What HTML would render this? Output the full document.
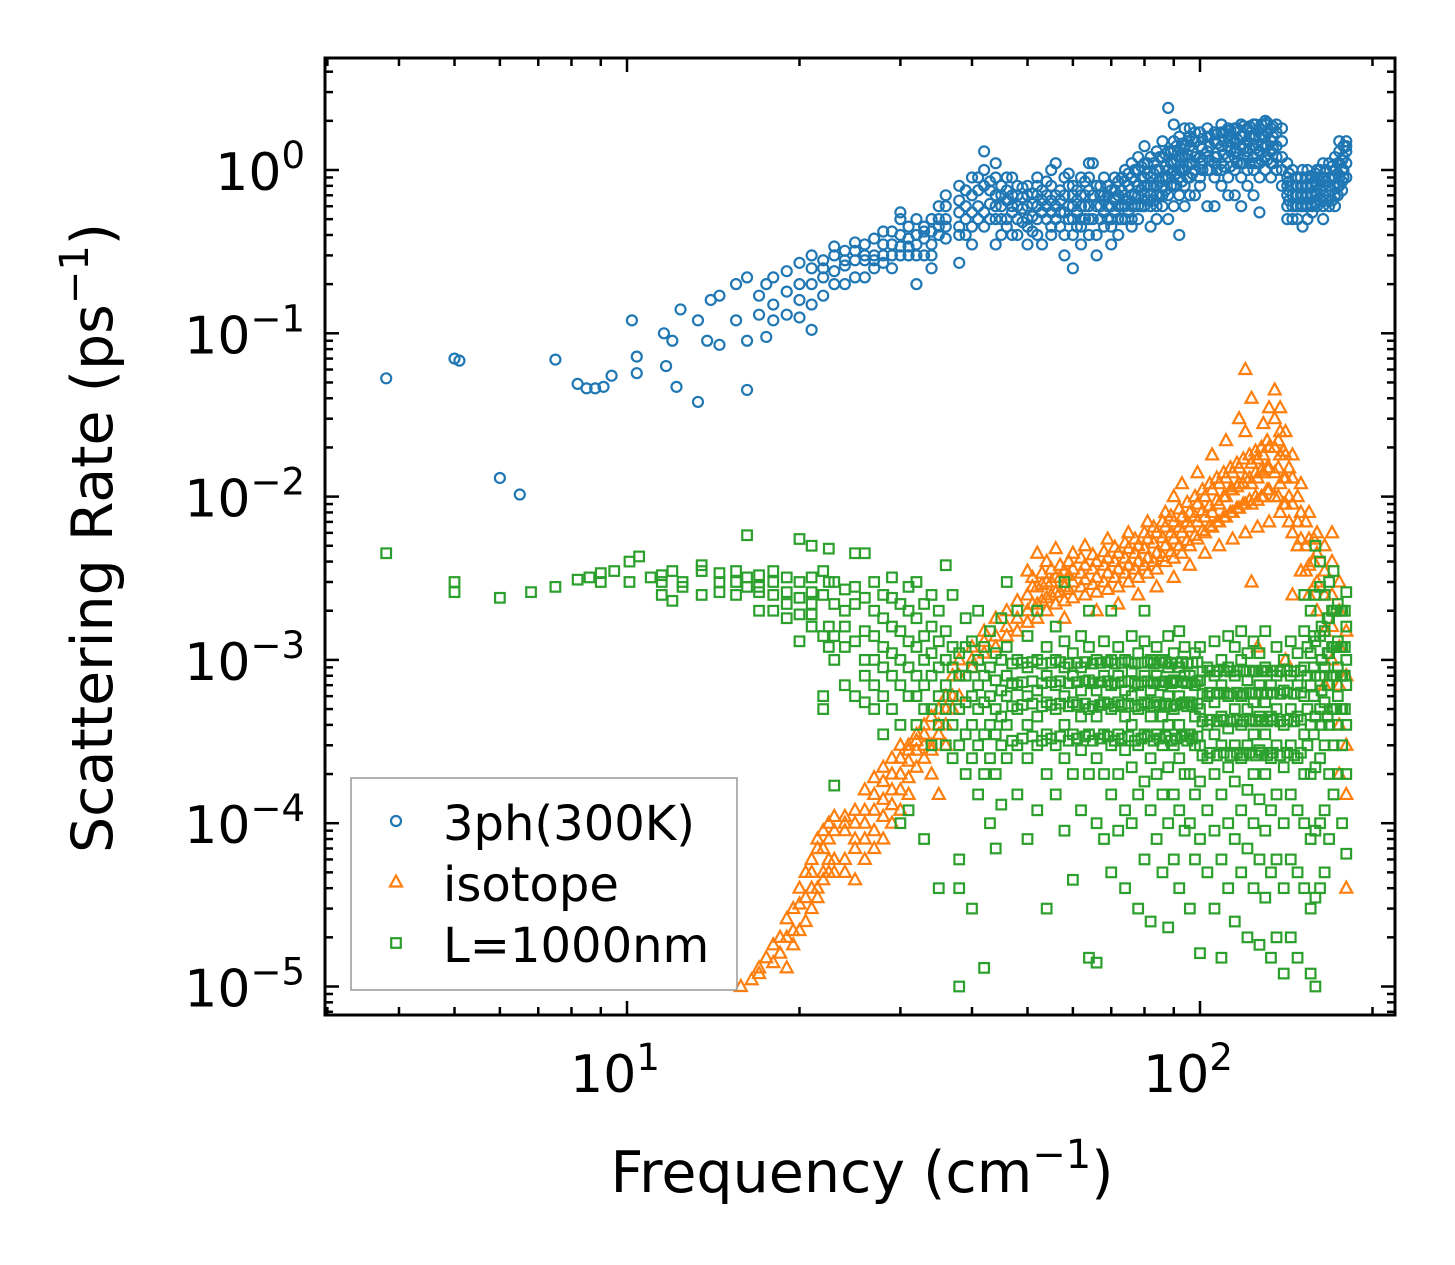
<!DOCTYPE html>
<html><head><meta charset="utf-8"><style>
html,body{margin:0;padding:0;background:#fff;}
svg{display:block;font-family:"DejaVu Sans","Liberation Sans",sans-serif;}
</style></head><body>
<svg id="chart" width="1455" height="1265" viewBox="0 0 1455 1265" xmlns="http://www.w3.org/2000/svg">
<rect width="1455" height="1265" fill="#fff"/>
<g id="marks"></g>
<g id="axes"></g>
<g id="legend"></g>
<text x="862" y="1192" font-size="57" text-anchor="middle">Frequency (cm<tspan font-size="40" dy="-24">−1</tspan><tspan dy="24">)</tspan></text>
<text transform="translate(112,538) rotate(-90)" font-size="57" text-anchor="middle">Scattering Rate (ps<tspan font-size="40" dy="-24">−1</tspan><tspan dy="24">)</tspan></text>
</svg>
<script>
// ---- data: rows are [frequency, rate values...]
const seriesNames = ["3ph(300K)", "isotope", "L=1000nm"];
const xTickLabels = ["1", "2"];
const yTickLabels = ["0", "−1", "−2", "−3", "−4", "−5"];
const blueRows = [
[3.8,.053],[5,.07],[5.1,.068],[6,.013],[6.5,.0103],[7.5,.069],[8.2,.049],[8.5,.046],[8.8,.046],[9.1,.047],[9.4,.055],[10.2,.12],[10.4,.072,.057],[11.6,.1],[11.7,.063],[12,.09],[12.2,.047],[12.4,.14],[13.3,.038,.12],[13.8,.09],[14,.16],[14.5,.085,.17],[15.5,.2,.12],[16.2,.22,.045,.09],[17,.13,.17],[17.5,.2,.095],[18,.15,.22,.12],[19,.24,.18,.13],[20,.125,.27,.2,.16],[21,.2,.3,.15,.25,.105],[22,.25,.17,.28,.22],[23,.3,.2,.24,.34],[24,.2,.26,.32,.28],[25,.32,.22,.28,.36],[26,.22,.28,.3,.35],[27,.28,.3,.38,.25],[28,.35,.27,.3,.42],[29,.42,.3,.35,.25],[30,.5,.55,.34,.3,.4],[31,.34,.3,.45,.38],[32,.2,.4,.35,.3,.5],[33,.3,.42,.38,.45],[34,.42,.35,.5,.3,.25],[35,.5,.4,.45,.6],[36,.6,.38,.5,.45,.7],[38,.27,.55,.45,.65,.4,.8],[39,.75,.5,.6,.4],[40,.45,.55,.7,.9,.35],[41,.9,.6,.5,.75],[42,1.3,.55,.8,1.0,.45],[44,.35,.6,.7,.9,.5,1.1],[45,.7,.5,.6,.8,.4],[46,.5,.65,.9,.45,.75],[47,.9,.55,.7,.4,.6],[48,.4,.6,.8,.5,.7],[50,.6,.45,.7,.5,.8,.35],[52,.8,.5,.6,.7,.4,.9],[53,.35,.55,.65,.75],[55,.55,.45,.65,.8,.4,1.0],[56,1.1,.6,.7,.5],[58,.4,.55,.7,.3,.9],[60,.7,.25,.5,.6,.4,.8],[62,.9,.5,.6,.7,.45,.35],[64,.5,.6,.75,.4,.9,1.1],[65,1.1,.5,.7],[66,.4,.6,.8,.3],[68,.7,.55,.45,.9,.65],[70,.35,.6,.5,.75,.45],[72,.6,.5,.7,.85,.4],[74,.85,.6,.7,.5,1.0],[76,.5,.7,.9,.6,.45,1.1],[78,1.0,.7,.8,.5,.6,1.2],[80,1.4,.6,.9,.7,.8,1.1],[82,.45,.7,.9,1.2,.6,.8],[84,.8,1.0,.6,.7,1.3,.5],[86,1.2,.8,.9,.6,1.5,.7],[88,2.4,.7,1.0,1.3,.9,.5],[90,1.5,.8,1.1,1.9,.6,1.0,1.3],[92,.4,.9,1.2,.7,1.0,1.6],[94,1.0,1.4,.8,.6,1.2,1.8],[96,1.8,.7,1.1,1.4,.9,1.6],[98,.7,1.2,1.0,1.5,1.7],[100,1.2,.9,1.4,1.7,1.1,.8],[103,.6,1.0,1.3,1.6,1.8,1.2],[106,.6,.9,1.2,1.5,1.7,1.1],[109,.8,1.1,1.4,1.7,1.0,1.9],[112,1.4,.9,1.2,1.6,1.8,.7],[115,.7,1.0,1.3,1.5,1.8,1.2],[118,1.9,1.1,1.4,.9,1.6,.6],[121,1.2,1.0,1.5,1.8,1.3,.8],[124,1.6,1.2,1.4,1.9,1.0,.7],[127,.55,1.3,1.6,1.1,1.8,.9],[130,1.9,1.4,1.2,1.6,2.0,1.0],[133,1.3,.9,1.5,1.8,1.1],[136,1.4,1.0,1.7,1.9,1.2],[139,1.0,1.5,1.2,1.8,.8],[142,.6,.7,.9,1.1,.5,.8],[145,.8,.6,.7,1.0,.5],[148,.5,.7,.9,.6,.8],[151,.45,.6,.8,1.0,.7],[154,1.0,.6,.8,.7,.5],[157,.6,.8,.7,.9,.55],[160,.8,.6,.9,.7,1.0],[164,.5,.7,.9,.6,.8,1.1],[168,1.1,.7,.9,.6,.8],[172,.7,.9,1.0,.6,.8,1.2],[175,1.5,.9,1.1,.8,1.3],[178,.9,1.2,1.0,1.4],[180,1.4,1.1,1.3,.9,1.5],
[43,.5,.62,.75,.85],[49,.48,.58,.68,.78],[51,.52,.62,.72,.42],[54,.5,.6,.7,.85],[57,.45,.55,.65,.75],[59,.5,.6,.8,.95],[61,.45,.55,.65,.75],[63,.5,.6,.7,.85],[67,.5,.6,.7,.8],[69,.5,.6,.7,.8],[71,.55,.65,.75,.9],[73,.5,.6,.75,.9],[75,.55,.65,.8,.95],[77,.6,.7,.85,1.0],[79,.6,.75,.9,1.05],[81,.65,.8,.95,1.1],[83,.65,.8,.95,1.1],[85,.7,.85,1.0,1.2],[87,.75,.9,1.05,1.25],[89,.8,.95,1.1,1.3],[91,.8,.95,1.15,1.4],[93,.85,1.0,1.2,1.45],[95,.9,1.05,1.25,1.5],[97,.95,1.1,1.3,1.55],[101,1.0,1.15,1.35,1.55],[104,1.0,1.15,1.4,1.6],[107,1.0,1.2,1.45,1.65],[110,1.05,1.25,1.5,1.7],[113,1.05,1.3,1.5,1.75],[116,1.1,1.3,1.55,1.8],[119,1.1,1.35,1.6,1.85],[122,1.1,1.35,1.6,1.85],[125,1.1,1.35,1.6,1.9],[128,1.15,1.4,1.65,1.9],[131,1.15,1.4,1.7,1.95],[134,1.1,1.35,1.6,1.85],[143,.65,.75,.85,.95],[147,.6,.7,.8,.9],[150,.6,.7,.8,.9],[153,.6,.7,.8,.9],[156,.62,.72,.82,.92],[159,.62,.72,.85,.95],[162,.65,.75,.85,1.0],[166,.65,.75,.85,1.0],[170,.65,.75,.9,1.05],[174,.7,.8,.95,1.1],[177,.75,.85,1.0,1.15]
];
const orangeRows = [
[15.8,1e-5],[16.5,1.1e-5],[17,1.2e-5,1.3e-5],[17.5,1.5e-5],[18,1.4e-5,1.8e-5],[18.5,1.6e-5,2e-5],[19,2e-5,2.6e-5,1.3e-5],[19.5,3e-5,2.2e-5,1.8e-5],[20,2.2e-5,3.2e-5,4e-5],[20.5,3.5e-5,5e-5,2.5e-5],[21,5e-5,4e-5,6e-5,3e-5],[21.5,4e-5,7e-5,8e-5,3.5e-5],[22,7e-5,9e-5,5e-5,4.5e-5],[22.5,1e-4,8e-5,6e-5,5e-5],[23,9e-5,1.1e-4,6e-5,5e-5],[24,1.1e-4,9e-5,1e-4,6e-5,5e-5],[25,1e-4,1.2e-4,8e-5,7e-5,4.5e-5],[26,8e-5,1.2e-4,1e-4,6e-5,1.6e-4],[27,1.5e-4,1.2e-4,9e-5,7e-5,1.9e-4],[28,1.8e-4,1.4e-4,1.1e-4,8e-5,2.2e-4],[29,2e-4,1.6e-4,1.3e-4,2.5e-4,1e-4],[30,2.5e-4,2e-4,1.6e-4,3e-4,1.2e-4],[31,3e-4,2.4e-4,1.9e-4,2.8e-4,1.5e-4],[32,3.5e-4,2.8e-4,2.2e-4,3.2e-4],[33,4e-4,3e-4,2.5e-4,3.5e-4],[34,3e-4,4.5e-4,2.8e-4,2e-4],[35,5e-4,4e-4,3.5e-4,1.5e-4],[36,6e-4,5e-4,4e-4,3e-4],[37,8e-4,6e-4,5e-4],[38,1e-3,8e-4,6e-4],[40,1.2e-3,9e-4,1e-3],[42,1.5e-3,1.1e-3,1.3e-3],[44,1.8e-3,1.4e-3,1.2e-3],[46,2e-3,1.6e-3,1.4e-3],[48,2.3e-3,1.8e-3,1.5e-3],[50,2.5e-3,2e-3,1.7e-3,3.5e-3],[52,2.8e-3,2.2e-3,4.5e-3,1.8e-3],[54,3e-3,2.4e-3,2e-3,4e-3],[56,3.2e-3,2.6e-3,2.2e-3,4.8e-3],[58,3.5e-3,2.8e-3,2.3e-3,1.8e-3],[60,3.6e-3,3e-3,2.4e-3,4.5e-3],[63,3.8e-3,3.1e-3,2.5e-3,5e-3],[66,4e-3,3.2e-3,2.6e-3,2e-3],[69,4.2e-3,3.4e-3,2.7e-3,5.5e-3],[72,4.5e-3,3.6e-3,2.8e-3,2.2e-3],[75,4.8e-3,3.8e-3,3e-3,6e-3],[78,5e-3,4e-3,3.2e-3,2.5e-3],[81,5.5e-3,4.2e-3,3.4e-3,7e-3],[84,6e-3,4.5e-3,3.6e-3,2.8e-3],[87,6.5e-3,5e-3,4e-3,8e-3],[90,7e-3,5.5e-3,4.2e-3,3.2e-3,1e-2],[93,7.5e-3,6e-3,4.5e-3,1.2e-2],[96,8e-3,6.5e-3,5e-3,3.8e-3],[99,9e-3,7e-3,5.5e-3,1.4e-2],[102,1e-2,7.5e-3,6e-3,4.5e-3],[105,1.1e-2,8e-3,6.5e-3,1.8e-2],[108,1.2e-2,9e-3,7e-3,5e-3],[111,1.3e-2,1e-2,7.5e-3,2.2e-2],[114,1.4e-2,1.1e-2,8e-3,5.5e-3],[117,1.5e-2,1.2e-2,8.5e-3,3e-2],[120,6e-2,1.3e-2,9e-3,6e-3,2.5e-2],[123,1.6e-2,1.2e-2,9e-3,4e-2,3e-3],[126,1.7e-2,1.3e-2,9.5e-3,6.5e-3,1.2e-3],[129,1.8e-2,1.4e-2,1e-2,2.8e-2],[132,2e-2,1.5e-2,1.1e-2,7e-3,3.5e-2],[135,4.5e-2,3e-2,2e-2,1.4e-2,1e-2],[138,3.5e-2,2.5e-2,1.8e-2,1.2e-2,8e-3],[141,2.5e-2,1.8e-2,1.3e-2,9e-3,1e-3],[145,1.8e-2,1.3e-2,9e-3,6e-3,2.5e-3],[150,1.2e-2,8e-3,5.5e-3,3.5e-3],[155,8e-3,5.5e-3,3.8e-3,2.5e-3],[160,6e-3,4.5e-3,3e-3,2e-3],[165,5e-3,3.5e-3,2.5e-3,1.5e-3,7e-4],[170,6e-3,4e-3,2.5e-3,1.6e-3,1e-3],[175,3e-3,2e-3,1.2e-3,7e-4,4e-4,2e-4],[180,1.5e-3,8e-4,3e-4,1.5e-4,4e-5],
[51,2.2e-3,2.8e-3,3.2e-3],[53,2.3e-3,2.9e-3,3.4e-3],[55,2.5e-3,3e-3,3.6e-3],[57,2.6e-3,3.2e-3,3.8e-3],[59,2.7e-3,3.3e-3,4e-3],[62,2.8e-3,3.4e-3,4.2e-3],[65,2.9e-3,3.6e-3,4.4e-3],[68,3e-3,3.8e-3,4.6e-3],[71,3.2e-3,4e-3,4.9e-3],[74,3.4e-3,4.2e-3,5.2e-3],[77,3.6e-3,4.5e-3,5.5e-3],[80,3.8e-3,4.8e-3,6e-3],[83,4e-3,5.2e-3,6.5e-3],[86,4.3e-3,5.6e-3,7e-3],[89,4.6e-3,6e-3,7.6e-3],[92,5e-3,6.5e-3,8.4e-3],[95,5.4e-3,7e-3,9.2e-3],[98,5.8e-3,7.6e-3,1e-2],[101,6.2e-3,8.2e-3,1.1e-2],[104,6.6e-3,8.8e-3,1.2e-2],[107,7e-3,9.5e-3,1.3e-2],[110,7.5e-3,1e-2,1.4e-2],[113,8e-3,1.1e-2,1.5e-2],[116,8.5e-3,1.15e-2,1.6e-2],[119,9e-3,1.2e-2,1.7e-2],[122,9.5e-3,1.3e-2,1.8e-2],[125,1e-2,1.4e-2,1.9e-2],[128,1e-2,1.45e-2,2e-2],[131,1.1e-2,1.5e-2,2.2e-2],[137,1e-2,1.5e-2,2.2e-2],[140,9e-3,1.3e-2,1.9e-2],[143,7e-3,1e-2,1.5e-2],[148,5e-3,7e-3,1e-2],[153,3.5e-3,5e-3,7e-3],[158,2.8e-3,4e-3,5.5e-3]
];
const greenRows = [
[3.8,4.5e-3],[5,3e-3,2.6e-3],[6,2.4e-3],[6.8,2.6e-3],[7.5,2.8e-3],[8.2,3.1e-3],[8.6,3.2e-3],[9,3.4e-3,3e-3],[9.5,3.5e-3],[10.1,3e-3,4e-3],[10.5,4.3e-3],[11,3.2e-3],[11.5,2.5e-3,3e-3,3.3e-3],[12,2.3e-3,3.5e-3],[12.5,2.8e-3,3e-3],[13.5,2.5e-3,3.8e-3,3.5e-3],[14.5,2.6e-3,3e-3,3.4e-3],[15.5,3e-3,2.5e-3,3.5e-3],[16.2,5.8e-3,2.8e-3,3.2e-3],[17,2e-3,2.8e-3,3.3e-3,2.6e-3],[18,2e-3,3e-3,3.5e-3,2.5e-3],[19,1.8e-3,2.6e-3,3.2e-3,2.2e-3],[20,1.3e-3,2.4e-3,5.5e-3,3e-3,1.9e-3],[21,1.6e-3,2.6e-3,5e-3,3.2e-3,1.9e-3,2.2e-3],[22,5e-4,6e-4,1.4e-3,2.5e-3,3.5e-3],[22.5,1.6e-3,4.8e-3,3e-3,1.2e-3],[23,1e-3,2.2e-3,3e-3,1.4e-3,1.7e-4],[24,7e-4,1.2e-3,2e-3,2.7e-3,1.6e-3],[25,4.5e-3,1.3e-3,2.2e-3,2.8e-3,6e-4],[26,5.5e-4,8e-4,1.5e-3,2.4e-3,4.5e-3,1e-3],[27,7e-4,1e-3,1.4e-3,2e-3,3e-3,5e-4],[28,6e-4,9e-4,1.2e-3,1.8e-3,2.5e-3,3.5e-4],[29,5e-4,8e-4,1.1e-3,1.6e-3,2.4e-3,3.2e-3],[30,4e-4,7e-4,1e-3,1.5e-3,2.2e-3,1e-4],[31,6e-4,9e-4,1.3e-3,2e-3,2.8e-3,1.2e-4],[32,4e-4,6e-4,8e-4,1.2e-3,1.8e-3,3e-3],[33,5e-4,7e-4,1e-3,1.4e-3,2.2e-3,8e-5],[34,3e-4,5e-4,8e-4,1.1e-3,1.6e-3,2.5e-3],[35,4e-4,6e-4,9e-4,1.3e-3,2e-3,4e-5],[36,3e-4,5e-4,7e-4,1e-3,1.5e-3,3.8e-3],[37,2.5e-4,4e-4,6e-4,9e-4,1.2e-3,2.5e-3],[38,1e-5,6e-5,4e-5,3e-4,5e-4,8e-4,1.1e-3],[39,2e-4,3.5e-4,5.5e-4,8e-4,1.2e-3,1.8e-3],[40,3e-5,2.5e-4,4e-4,6e-4,9e-4,1.3e-3],[41,1.5e-4,3e-4,5e-4,7e-4,1e-3,2e-3],[42,1.3e-5,2e-4,3.5e-4,5.5e-4,8e-4,1.2e-3],[43,1e-4,2.5e-4,4e-4,6e-4,9e-4,1.5e-3],[44,7e-5,2e-4,3.5e-4,5e-4,7.5e-4,1.1e-3],[45,1.3e-4,3e-4,4.5e-4,6.5e-4,1e-3,1.8e-3],[46,2.5e-4,4e-4,6e-4,8e-4,1.2e-3,3e-3],[48,1.5e-4,3e-4,5e-4,7e-4,1e-3,2e-3],[50,8e-5,2.5e-4,4e-4,6e-4,9e-4,1.4e-3],[52,1.2e-4,3e-4,4.5e-4,6.5e-4,1e-3,2e-3],[54,3e-5,2e-4,3.5e-4,5.5e-4,8e-4,1.2e-3],[56,1.5e-4,3e-4,5e-4,7e-4,1e-3,1.6e-3],[58,9e-5,2.5e-4,4e-4,6e-4,9e-4,1.3e-3,3e-3],[60,4.5e-5,2e-4,3.5e-4,5.5e-4,8e-4,1.1e-3],[62,1.2e-4,2.8e-4,4.5e-4,6.5e-4,9e-4,1.4e-3],[64,1.5e-5,2e-4,3.5e-4,5e-4,7.5e-4,1.2e-3,2e-3],[66,1.4e-5,1e-4,2.5e-4,4.5e-4,6.5e-4,1e-3],[68,8e-5,2e-4,3.5e-4,5.5e-4,8e-4,1.3e-3],[70,5e-5,1.5e-4,3e-4,5e-4,7e-4,1e-3,2e-3],[72,9e-5,2e-4,3.5e-4,5.5e-4,8e-4,1.2e-3],[74,4e-5,1.2e-4,2.8e-4,4.5e-4,6.5e-4,1e-3],[76,1e-4,2.2e-4,4e-4,6e-4,8.5e-4,1.4e-3],[78,3e-5,1.5e-4,3e-4,5e-4,7e-4,1.1e-3],[80,6e-5,1.8e-4,3.5e-4,5.5e-4,8e-4,1.3e-3,2e-3],[82,2.5e-5,1.2e-4,2.5e-4,4.5e-4,6.5e-4,1e-3],[84,8e-5,2e-4,3.5e-4,5.5e-4,8e-4,1.2e-3],[86,5e-5,1.5e-4,3e-4,4.5e-4,7e-4,1e-3],[88,2.3e-5,1e-4,2.2e-4,4e-4,6e-4,9e-4,1.4e-3],[90,6e-5,1.5e-4,3e-4,5e-4,7.5e-4,1.1e-3],[92,4e-5,1.2e-4,2.5e-4,4e-4,6e-4,9e-4,1.5e-3],[94,9e-5,2e-4,3.5e-4,5.5e-4,8e-4,1.2e-3],[96,3e-5,1e-4,2e-4,3.5e-4,5.5e-4,8e-4],[98,6e-5,1.5e-4,3e-4,4.5e-4,7e-4,1.1e-3],[100,1.6e-5,8e-5,1.8e-4,3e-4,5e-4,7.5e-4,1.2e-3],[103,5e-5,1.2e-4,2.5e-4,4e-4,6e-4,9e-4],[106,3e-5,9e-5,2e-4,3.5e-4,5.5e-4,8e-4,1.3e-3],[109,1.5e-5,6e-5,1.5e-4,3e-4,4.5e-4,7e-4,1e-3],[112,4e-5,1e-4,2.2e-4,3.8e-4,6e-4,9e-4,1.4e-3],[115,2.5e-5,8e-5,1.8e-4,3e-4,5e-4,8e-4,1.2e-3],[118,5e-5,1.2e-4,2.5e-4,4e-4,6e-4,1e-3,1.5e-3],[121,2e-5,7e-5,1.6e-4,3e-4,5e-4,7.5e-4,1.1e-3],[124,4e-5,1e-4,2e-4,3.5e-4,5.5e-4,8.5e-4,1.3e-3],[127,1.8e-5,6e-5,1.4e-4,2.8e-4,4.5e-4,7e-4,1.1e-3],[130,3.5e-5,9e-5,2e-4,3.5e-4,5.5e-4,9e-4,1.5e-3],[133,1.5e-5,5e-5,1.2e-4,2.5e-4,4.5e-4,7e-4],[136,2e-5,6e-5,1.5e-4,3e-4,5e-4,8e-4,1.2e-3],[140,1.2e-5,4e-5,1e-4,2.2e-4,4e-4,6.5e-4,1e-3],[144,2e-5,6e-5,1.5e-4,3e-4,5e-4,8e-4,1.3e-3],[148,1.5e-5,5e-5,1.2e-4,2.5e-4,4.5e-4,7e-4,1.1e-3],[152,4e-5,1e-4,2e-4,3.5e-4,6e-4,9e-4,1.5e-3,2.5e-3],[156,1.2e-5,3e-5,8e-5,2e-4,4e-4,7e-4,1.1e-3,2e-3],[159,1e-5,3.5e-5,9e-5,2.2e-4,4.5e-4,8e-4,1.3e-3,2.5e-3,5e-3],[162,4e-5,1e-4,2.5e-4,5e-4,8e-4,1.4e-3,2.8e-3,4e-3],[165,5e-5,1.2e-4,3e-4,5.5e-4,9e-4,1.5e-3,2.5e-3],[168,8e-5,2e-4,4e-4,7e-4,1.1e-3,1.8e-3,3e-3],[171,1.5e-4,3e-4,5e-4,8e-4,1.2e-3,2e-3,3.5e-3],[174,2e-4,4e-4,6e-4,9e-4,1.3e-3,2.2e-3],[177,1e-4,3e-4,5e-4,8e-4,1.2e-3,2e-3],[180,6.5e-5,2e-4,4e-4,7e-4,1e-3,1.6e-3,2.6e-3],
[47,3.2e-4,5.2e-4,7.2e-4,9.5e-4],[49,3.3e-4,5.3e-4,7.3e-4,9.6e-4],[51,3.4e-4,5.4e-4,7.4e-4,9.7e-4],[53,3.2e-4,5.2e-4,7.2e-4,9.5e-4],[55,3.3e-4,5.3e-4,7.3e-4,9.6e-4],[57,3.4e-4,5.4e-4,7.4e-4,9.7e-4],[59,3.2e-4,5.2e-4,7.2e-4,9.5e-4],[61,3.3e-4,5.3e-4,7.3e-4,9.6e-4],[63,3.4e-4,5.4e-4,7.4e-4,9.7e-4],[65,3.2e-4,5.2e-4,7.2e-4,9.5e-4],[67,3.3e-4,5.3e-4,7.3e-4,9.6e-4],[69,3.4e-4,5.4e-4,7.4e-4,9.7e-4],[71,3.2e-4,5.2e-4,7.2e-4,9.5e-4],[73,3.3e-4,5.3e-4,7.3e-4,9.6e-4],[75,3.4e-4,5.4e-4,7.4e-4,9.7e-4],[77,3.2e-4,5.2e-4,7.2e-4,9.5e-4],[79,3.3e-4,5.3e-4,7.3e-4,9.6e-4],[81,3.4e-4,5.4e-4,7.4e-4,9.7e-4],[83,3.2e-4,5.2e-4,7.2e-4,9.5e-4],[85,3.3e-4,5.3e-4,7.3e-4,9.6e-4],[87,3.4e-4,5.4e-4,7.4e-4,9.7e-4],[89,3.2e-4,5.2e-4,7.2e-4,9.5e-4],[91,3.3e-4,5.3e-4,7.3e-4,9.6e-4],[93,3.4e-4,5.4e-4,7.4e-4,9.7e-4],[95,3.2e-4,5.2e-4,7.2e-4,9.5e-4],[97,3.3e-4,5.3e-4,7.3e-4,9.6e-4],[99,3.4e-4,5.4e-4,7.4e-4,9.7e-4],[101,2.6e-4,4.2e-4,6.2e-4,8.5e-4],[104,2.7e-4,4.3e-4,6.3e-4,8.6e-4],[107,2.6e-4,4.2e-4,6.2e-4,8.5e-4],[110,2.7e-4,4.3e-4,6.3e-4,8.6e-4],[113,2.6e-4,4.2e-4,6.2e-4,8.5e-4],[116,2.7e-4,4.3e-4,6.3e-4,8.6e-4],[119,2.6e-4,4.2e-4,6.2e-4,8.5e-4],[122,2.7e-4,4.3e-4,6.3e-4,8.6e-4],[125,2.6e-4,4.2e-4,6.2e-4,8.5e-4],[128,2.7e-4,4.3e-4,6.3e-4,8.6e-4],[131,2.6e-4,4.2e-4,6.2e-4,8.5e-4],[134,2.7e-4,4.3e-4,6.3e-4,8.6e-4],[138,2.6e-4,4.2e-4,6.2e-4,8.5e-4],[142,2.7e-4,4.3e-4,6.3e-4,8.6e-4],[146,2.6e-4,4.2e-4,6.2e-4,8.5e-4],[150,2.7e-4,4.3e-4,6.3e-4,8.6e-4],[154,3e-4,5e-4,8e-4,1.2e-3],[158,3.5e-4,6e-4,9e-4,1.4e-3],[163,4e-4,6.5e-4,1e-3,1.6e-3],[167,4.5e-4,7e-4,1.1e-3,1.8e-3],[170,5e-4,8e-4,1.2e-3,2e-3],[173,5e-4,8e-4,1.2e-3,2e-3],[176,5e-4,8e-4,1.2e-3,2e-3],[179,5e-4,8e-4,1.2e-3,2e-3]
];

const NS = "http://www.w3.org/2000/svg";
const L = 325, R = 1395, T = 58, B = 1015;
function xs(f){ return 627 + 573 * (Math.log10(f) - 1); }
function ys(v){ return 170 - 163.3 * Math.log10(v); }
function mk(tag, attrs, parent){
  const e = document.createElementNS(NS, tag);
  for (const k in attrs) e.setAttribute(k, attrs[k]);
  parent.appendChild(e); return e;
}
const marks = document.getElementById('marks');
const axes = document.getElementById('axes');
const legend = document.getElementById('legend');

function drawMarker(kind, cx, cy, parent, color){
  let el;
  if (kind === 'circle') el = mk('circle', {cx: cx, cy: cy, r: 5, fill: 'none', stroke: color, 'stroke-width': 2.2}, parent);
  else if (kind === 'tri') el = mk('polygon', {points: `${cx},${cy-6.5} ${cx-6},${cy+4.5} ${cx+6},${cy+4.5}`, fill: 'none', stroke: color, 'stroke-width': 2.2}, parent);
  else el = mk('rect', {x: cx-4.8, y: cy-4.8, width: 9.6, height: 9.6, fill: 'none', stroke: color, 'stroke-width': 2.2}, parent);
  return el;
}
function drawSeries(rows, kind, color, name){
  const g = mk('g', {}, marks);
  
  
  rows.forEach(row => {
    const f = row[0];
    for (let i = 1; i < row.length; i++){
      const m = drawMarker(kind, xs(f), ys(row[i]), g, color);
      
      
    }
  });
}
drawSeries(orangeRows, 'tri', '#ff7f0e', 'isotope');
drawSeries(greenRows, 'sq', '#2ca02c', 'boundary');
drawSeries(blueRows, 'circle', '#1f77b4', 'three-phonon');

const cp = mk('clipPath', {id: 'clip'}, document.getElementById('chart'));
mk('rect', {x: L, y: T, width: R-L, height: B-T}, cp);
marks.setAttribute('clip-path', 'url(#clip)');

const frame = mk('rect', {x: L, y: T, width: R-L, height: B-T, fill: 'none', stroke: '#000', 'stroke-width': 3}, axes);



for (let d = 0; d <= 2; d++){
  for (let m = 1; m <= 9; m++){
    const f = m * Math.pow(10, d);
    const x = xs(f);
    if (x < L || x > R) continue;
    const len = m === 1 ? 14 : 8;
    mk('line', {x1: x, y1: B, x2: x, y2: B-len, stroke: '#000', 'stroke-width': 2.5}, axes);
    mk('line', {x1: x, y1: T, x2: x, y2: T+len, stroke: '#000', 'stroke-width': 2.5}, axes);
  }
}
xTickLabels.forEach((lab, i) => {
  const t = mk('text', {x: xs(Math.pow(10, i+1)) - 12, y: 1092, 'font-size': 52, 'text-anchor': 'middle'}, axes);
  
  
  t.innerHTML = '10<tspan font-size="37" dy="-22">' + lab + '</tspan>';
});
for (let d = -6; d <= 0; d++){
  for (let m = 1; m <= 9; m++){
    const v = m * Math.pow(10, d);
    const y = ys(v);
    if (y < T || y > B) continue;
    const len = m === 1 ? 14 : 8;
    mk('line', {x1: L, y1: y, x2: L+len, y2: y, stroke: '#000', 'stroke-width': 2.5}, axes);
    mk('line', {x1: R, y1: y, x2: R-len, y2: y, stroke: '#000', 'stroke-width': 2.5}, axes);
  }
}
yTickLabels.forEach((lab, i) => {
  const t = mk('text', {x: 305, y: ys(Math.pow(10, -i)) + 20, 'font-size': 52, 'text-anchor': 'end'}, axes);
  
  
  t.innerHTML = '10<tspan font-size="37" dy="-22">' + lab + '</tspan>';
});

const lb = mk('rect', {x: 351, y: 778, width: 386, height: 212, fill: '#fff', 'fill-opacity': 0.8, stroke: '#999', 'stroke-width': 1.5}, legend);


const legKinds = ['circle', 'tri', 'sq'];
const legColors = ['#1f77b4', '#ff7f0e', '#2ca02c'];
seriesNames.forEach((n, i) => {
  const y = 823 + i * 61;
  const m = drawMarker(legKinds[i], 396, y - 2, legend, legColors[i]);
  
  
  const t = mk('text', {x: 443, y: y + 17, 'font-size': 48}, legend);
  
  
  t.textContent = n;
});
</script>
</body></html>
